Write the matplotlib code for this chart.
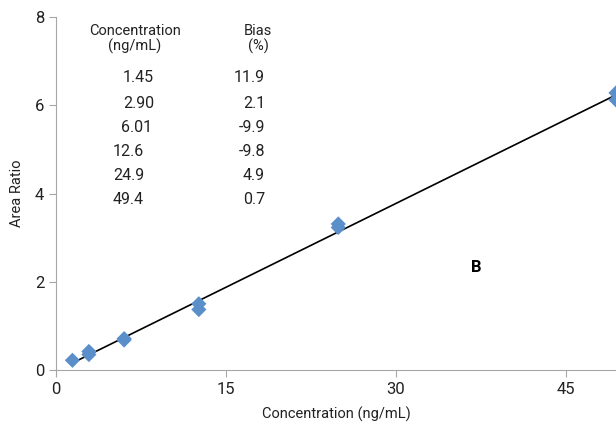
import matplotlib.pyplot as plt
import numpy as np

# calibration points (replicates at each level)
conc = [1.45, 2.90, 2.90, 6.01, 6.01, 12.6, 12.6, 24.9, 24.9, 49.4, 49.4]
area_ratio = [0.22, 0.35, 0.42, 0.68, 0.71, 1.37, 1.50, 3.23, 3.31, 6.12, 6.28]

# table shown in the upper-left corner
table_conc = ["1.45", "2.90", "6.01", "12.6", "24.9", "49.4"]
table_bias = ["11.9", "2.1", "-9.9", "-9.8", "4.9", "0.7"]

xticks = [0, 15, 30, 45]
yticks = [0, 2, 4, 6, 8]

plt.rcParams["font.family"] = ["Roboto", "DejaVu Sans"]
GRAY = "#a6a6a6"
TXT = "#222222"
FS = 10.5

fig = plt.figure(figsize=(6.16, 4.30), dpi=100)
ax = fig.add_axes([56 / 616, 60 / 430, 560 / 616, 353 / 430])

slope, intercept = np.polyfit(conc, area_ratio, 1)
xfit = np.array([min(conc), max(conc)])
ax.plot(xfit, slope * xfit + intercept, color="black", lw=1.2, zorder=2)
ax.scatter(conc, area_ratio, marker="D", s=60, color="#5b8fc9",
           edgecolors="none", zorder=3)

ax.set_xlim(0, 49.4)
ax.set_ylim(0, 8)
ax.set_xticks(xticks)
ax.set_yticks(yticks)
for s in ("top", "right"):
    ax.spines[s].set_visible(False)
for s in ("left", "bottom"):
    ax.spines[s].set_color(GRAY)
ax.tick_params(colors=GRAY, labelcolor=TXT, labelsize=12, length=5)
ax.set_xlabel("Concentration (ng/mL)", fontsize=FS, color=TXT, labelpad=7)
ax.set_ylabel("Area Ratio", fontsize=FS, color=TXT, labelpad=8)

# inset table (positions measured in pixels of the original figure)
tx = lambda px: (px - 56) / (560 / 49.4)
ty = lambda py: (370 - py) / (353 / 8)
ax.text(tx(135), ty(39), "Concentration\n(ng/mL)", ha="center", va="center",
        fontsize=FS, linespacing=1.0, color=TXT)
ax.text(tx(258), ty(39), "Bias\n(%)", ha="center", va="center",
        fontsize=FS, linespacing=1.0, color=TXT)
rows_y = [78, 103, 127, 152, 176, 200]
conc_right = [154, 154, 152, 144, 144, 144]
for c, b, py, cr in zip(table_conc, table_bias, rows_y, conc_right):
    ax.text(tx(cr), ty(py), c, ha="right", va="center", fontsize=11.5, color=TXT)
    ax.text(tx(265), ty(py), b, ha="right", va="center", fontsize=11.5, color=TXT)

ax.text(tx(476), ty(268), "B", ha="center", va="center", fontsize=12,
        fontweight="bold", color="black")

fig.savefig("out.png", dpi=100)
